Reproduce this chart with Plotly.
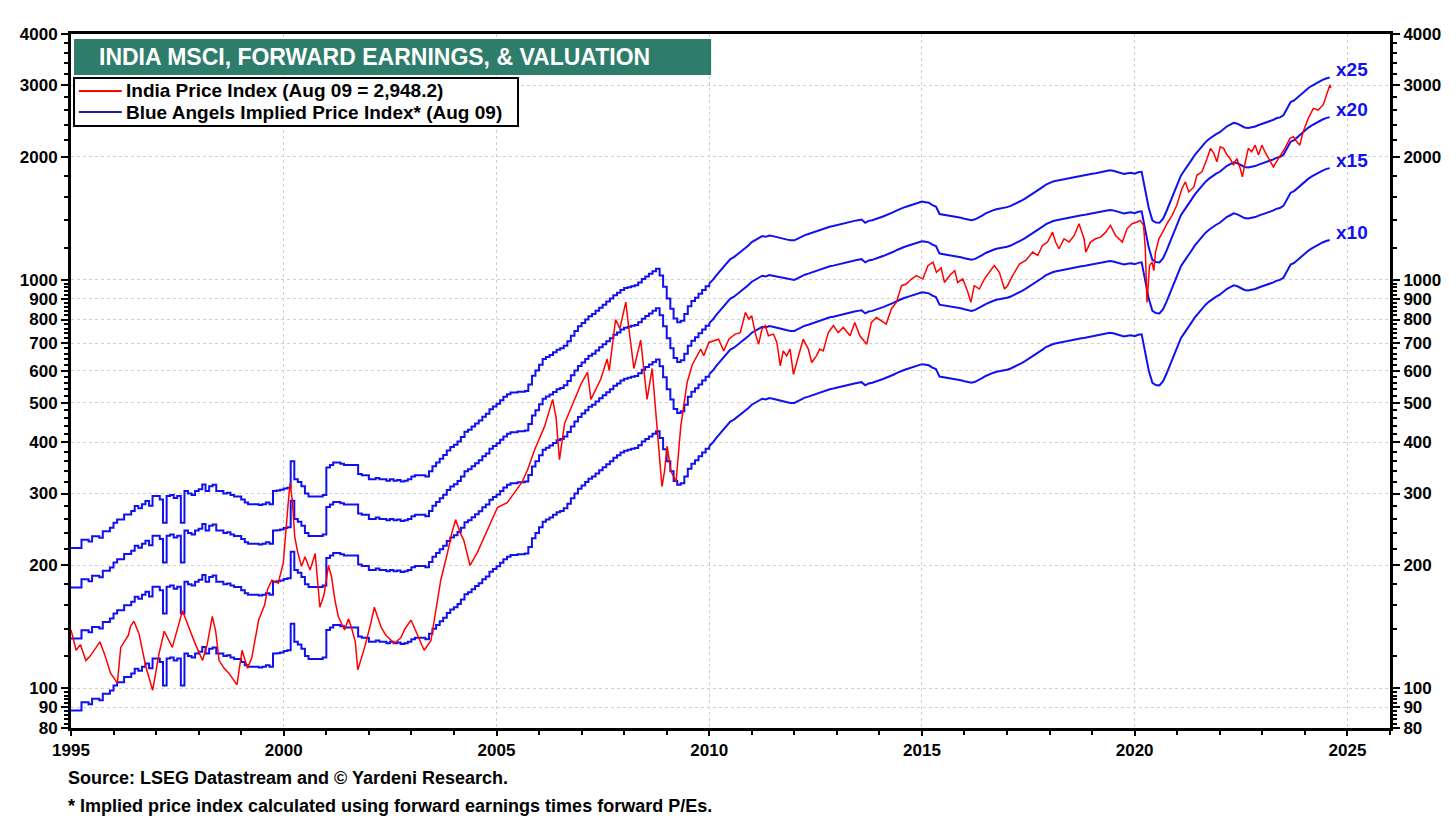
import math

import pandas as pd
import plotly.graph_objects as go

# forward earnings (monthly, Jan 1995 - Aug 2024)
fwd_eps = [
    8.83, 8.83, 8.83, 9.25, 9.25, 9.15, 9.43, 9.43, 9.35, 9.70, 9.70, 9.89,
    10.17, 10.36, 10.36, 10.66, 10.66, 10.87, 11.18, 11.05, 11.30, 11.50, 11.20, 11.83,
    11.83, 11.60, 10.17, 11.83, 11.90, 11.70, 11.83, 10.17, 12.17, 12.00, 11.90, 12.17,
    12.30, 12.63, 12.17, 12.50, 12.60, 12.17, 12.17, 12.00, 12.05, 11.90, 11.80, 11.80,
    11.60, 11.40, 11.30, 11.30, 11.30, 11.25, 11.30, 11.40, 11.30, 12.17, 12.20, 12.25,
    12.35, 12.40, 14.40, 13.00, 12.80, 12.50, 12.00, 11.80, 11.80, 11.80, 11.80, 11.90,
    13.90, 14.10, 14.30, 14.30, 14.20, 14.10, 14.10, 14.10, 14.10, 13.40, 13.30, 13.30,
    13.00, 13.00, 13.10, 13.00, 13.00, 12.90, 13.00, 12.90, 12.95, 12.85, 12.90, 13.00,
    13.20, 13.30, 13.30, 13.30, 13.20, 13.60, 14.00, 14.30, 14.60, 14.90, 15.30, 15.60,
    15.80, 16.10, 16.50, 17.00, 17.20, 17.50, 17.80, 18.10, 18.50, 18.80, 19.30, 19.60,
    19.90, 20.30, 20.70, 21.00, 21.20, 21.20, 21.30, 21.30, 21.40, 22.20, 23.30, 24.00,
    24.80, 25.60, 25.90, 26.20, 26.60, 27.00, 27.20, 27.60, 28.30, 29.20, 30.00, 30.80,
    31.40, 32.00, 32.60, 33.00, 33.60, 34.20, 34.80, 35.40, 36.00, 36.70, 37.20, 37.80,
    38.20, 38.40, 38.60, 38.80, 39.40, 40.20, 40.80, 41.40, 42.00, 42.60, 41.00, 38.50,
    36.00, 34.00, 32.20, 31.50, 31.80, 33.00, 34.50, 35.50, 36.20, 37.00, 37.80, 38.60,
    39.20, 40.00, 41.00, 42.00, 43.00, 44.00, 45.00, 45.50, 46.20, 47.00, 47.80, 48.50,
    49.50, 50.00, 50.50, 51.20, 51.00, 51.40, 51.20, 51.00, 50.80, 50.50, 50.20, 50.00,
    50.00, 50.50, 51.00, 51.50, 51.80, 52.20, 52.50, 52.80, 53.20, 53.60, 54.00, 54.20,
    54.50, 54.80, 55.00, 55.20, 55.60, 55.80, 56.00, 56.20, 55.20, 55.80, 56.00, 56.50,
    56.80, 57.20, 57.60, 58.00, 58.60, 59.20, 59.80, 60.20, 60.60, 61.00, 61.40, 61.80,
    62.20, 62.00, 61.80, 61.00, 60.50, 58.00, 57.80, 57.70, 57.60, 57.40, 57.20, 56.80,
    56.50, 56.20, 56.00, 56.30, 56.80, 57.50, 58.20, 58.80, 59.20, 59.60, 59.80, 60.00,
    60.30, 60.70, 61.20, 61.80, 62.50, 63.20, 64.00, 64.80, 65.60, 66.50, 67.50, 68.50,
    69.20, 69.70, 70.00, 70.30, 70.60, 71.00, 71.20, 71.60, 71.80, 72.00, 72.20, 72.50,
    72.80, 73.00, 73.30, 73.60, 73.80, 74.20, 74.00, 73.50, 73.00, 72.70, 73.00, 73.20,
    72.80, 73.40, 73.60, 67.00, 60.00, 56.00, 55.30, 55.20, 56.50, 59.00, 62.00, 65.00,
    69.00, 72.00, 74.00, 76.00, 78.50, 81.00, 83.00, 85.00, 87.00, 88.50, 90.00, 91.00,
    92.00, 93.50, 95.00, 96.00, 97.00, 96.50, 95.50, 94.50, 94.20, 94.50, 95.00, 95.80,
    96.50, 97.00, 97.80, 98.50, 99.50, 100.00, 101.20, 105.00, 109.00, 110.00, 112.00, 114.00,
    116.00, 118.00, 119.50, 121.00, 122.50, 123.50, 124.50, 125.20,
]
eps_dates = pd.date_range("1995-01-01", periods=len(fwd_eps), freq="MS")
pe_multiples = [25, 20, 15, 10]
step_until = "2010-01-01"  # monthly steps are visible before this date

# India price index (decimal years)
price_years = [
    1995.00, 1995.05, 1995.12, 1995.22, 1995.35, 1995.45, 1995.58, 1995.68, 1995.78, 1995.93,
    1996.09, 1996.17, 1996.35, 1996.40, 1996.48, 1996.60, 1996.76, 1996.92,
    1997.07, 1997.19, 1997.38, 1997.50, 1997.62, 1997.77, 1997.90,
    1998.09, 1998.20, 1998.32, 1998.40, 1998.48, 1998.60, 1998.71, 1998.90,
    1999.02, 1999.15, 1999.25, 1999.41, 1999.55, 1999.62, 1999.72, 1999.87, 1999.99,
    2000.05, 2000.10, 2000.15, 2000.20, 2000.26, 2000.33, 2000.42, 2000.50, 2000.62, 2000.74,
    2000.85, 2000.95, 2001.05, 2001.12, 2001.20, 2001.28, 2001.43, 2001.52, 2001.59, 2001.68,
    2001.74, 2001.90, 2002.05, 2002.13, 2002.20, 2002.29, 2002.40, 2002.60, 2002.75, 2002.85,
    2002.99, 2003.15, 2003.30, 2003.46, 2003.55, 2003.69, 2003.85, 2003.95,
    2004.04, 2004.15, 2004.23, 2004.38, 2004.55, 2004.80,
    2005.02, 2005.25, 2005.42, 2005.60, 2005.73, 2005.90, 2006.13, 2006.32, 2006.40, 2006.48,
    2006.60, 2006.83, 2007.00, 2007.14, 2007.22, 2007.45, 2007.60, 2007.65, 2007.80, 2007.90,
    2008.04, 2008.10, 2008.16, 2008.23, 2008.39, 2008.54, 2008.66, 2008.77, 2008.89, 2008.95,
    2009.01, 2009.10, 2009.22, 2009.33, 2009.48, 2009.60, 2009.80, 2009.87, 2009.99,
    2010.22, 2010.34, 2010.46, 2010.61, 2010.73, 2010.85, 2010.93, 2011.00, 2011.08, 2011.16,
    2011.24, 2011.32, 2011.39, 2011.51, 2011.59, 2011.67, 2011.74, 2011.82, 2011.90, 2011.98,
    2012.10, 2012.21, 2012.33, 2012.41, 2012.52, 2012.60, 2012.68, 2012.80, 2012.92, 2013.03,
    2013.15, 2013.31, 2013.42, 2013.54, 2013.70, 2013.81, 2013.93, 2014.05, 2014.16, 2014.28,
    2014.40, 2014.52, 2014.63, 2014.75, 2014.87, 2015.02, 2015.14, 2015.26, 2015.34, 2015.45,
    2015.53, 2015.65, 2015.77, 2015.84, 2015.96, 2016.08, 2016.15, 2016.23, 2016.35, 2016.47,
    2016.58, 2016.70, 2016.82, 2016.94, 2017.01, 2017.13, 2017.29, 2017.44, 2017.60, 2017.72,
    2017.83, 2017.95, 2018.07, 2018.14, 2018.22, 2018.34, 2018.46, 2018.58, 2018.69, 2018.81,
    2018.85, 2018.96, 2019.08, 2019.20, 2019.32, 2019.43, 2019.55, 2019.71, 2019.82, 2019.94,
    2020.06, 2020.13, 2020.21, 2020.25, 2020.29, 2020.35, 2020.41, 2020.45, 2020.49, 2020.57,
    2020.68, 2020.76, 2020.88, 2020.99, 2021.11, 2021.19, 2021.27, 2021.39, 2021.46, 2021.58,
    2021.70, 2021.78, 2021.86, 2021.93, 2022.01, 2022.09, 2022.17, 2022.24, 2022.32, 2022.40,
    2022.48, 2022.53, 2022.60, 2022.67, 2022.75, 2022.83, 2022.91, 2022.99, 2023.06, 2023.18,
    2023.26, 2023.38, 2023.53, 2023.65, 2023.73, 2023.81, 2023.88, 2023.96, 2024.08, 2024.20,
    2024.31, 2024.43, 2024.51, 2024.59, 2024.61,
]
price_values = [
    139, 132, 124, 128, 117, 120, 126, 130, 122, 109,
    103, 126, 135, 142, 146, 136, 113, 99,
    122, 138, 126, 140, 155, 141, 130,
    117, 128, 150, 138, 117, 112, 109, 102,
    124, 112, 119, 147, 160, 175, 184, 181, 203,
    250, 280, 318, 290, 235, 215, 199, 210, 195, 214,
    158, 170, 200, 188, 165, 150, 139, 148, 141, 130,
    111, 126, 145, 158, 150, 141, 135, 129, 133, 140,
    147, 135, 124, 131, 150, 184, 215, 240,
    259, 240, 231, 200, 215, 245,
    277, 285, 301, 320, 343, 385, 438, 510, 460, 363,
    445, 510, 560, 594, 510, 571, 640, 600, 800, 760,
    882, 780, 702, 607, 712, 510, 607, 438, 312, 340,
    392, 340, 321, 438, 561, 620, 677, 652, 703,
    716, 670, 716, 737, 743, 833, 802, 817, 743, 696,
    758, 773, 730, 737, 703, 616, 670, 652, 677, 587,
    652, 716, 677, 628, 652, 677, 670, 743, 773, 743,
    765, 730, 787, 730, 696, 787, 809, 794, 780, 849,
    882, 968, 977, 1005, 1025, 1005, 1084, 1105, 1044, 1070,
    986, 1025, 1054, 986, 1006, 933, 881, 968, 950, 1006,
    1044, 1084, 1044, 950, 968, 1025, 1094, 1116, 1170, 1148,
    1214, 1238, 1309, 1238, 1192, 1261, 1238, 1285, 1373, 1261,
    1170, 1238, 1261, 1273, 1309, 1360, 1285, 1238, 1334, 1373,
    1386, 1399, 1360, 1192, 881, 1084, 1105, 1054, 1170, 1261,
    1322, 1373, 1439, 1523, 1673, 1738, 1642, 1689, 1804, 1839,
    1983, 2099, 2040, 1946, 2118, 2099, 2021, 1983, 1909, 1983,
    1874, 1787, 1946, 2099, 2060, 2138, 2021, 2138, 2060, 1946,
    1891, 1983, 2099, 2221, 2242, 2178, 2138, 2306, 2486, 2631,
    2606, 2682, 2837, 3003, 2948.2,
]
price_dates = [pd.Timestamp(f"{int(y)}-01-01") + pd.Timedelta(days=(y - int(y)) * 365.25)
               for y in price_years]

y_major = [80, 90, 100, 200, 300, 400, 500, 600, 700, 800, 900, 1000, 2000, 3000, 4000]
y_minor = ([v for v in range(82, 100, 2) if v != 90]
           + [v for v in range(120, 1000, 20) if v % 100]
           + [v for v in range(1200, 4000, 200) if v % 1000])
x_years = list(range(1995, 2026, 5))

legend_items = [
    ("India Price Index (Aug 09 = 2,948.2)", "#FF0000"),
    ("Blue Angels Implied Price Index* (Aug 09)", "#1a1ab4"),
]

FONT = "Liberation Sans, Arial, sans-serif"
BLUE = "#1010F0"
RED = "#FF0000"

fig = go.Figure()
n_step = sum(d <= pd.Timestamp(step_until) for d in eps_dates)
for pe in pe_multiples:
    implied = [e * pe for e in fwd_eps]
    fig.add_trace(
        go.Scatter(x=eps_dates[:n_step], y=implied[:n_step], mode="lines",
                   line=dict(color=BLUE, width=2, shape="hv"), hoverinfo="skip")
    )
    fig.add_trace(
        go.Scatter(x=eps_dates[n_step - 1:], y=implied[n_step - 1:], mode="lines",
                   line=dict(color=BLUE, width=2), name=f"x{pe}")
    )
    fig.add_annotation(
        x=eps_dates[-1],
        y=math.log10(implied[-1]),
        text=f"x{pe}",
        showarrow=False,
        xanchor="left",
        yanchor="middle",
        xshift=4,
        yshift=8,
        font=dict(family=FONT, size=19, color=BLUE, weight="bold"),
    )

fig.add_trace(
    go.Scatter(x=price_dates, y=price_values, mode="lines",
               line=dict(color=RED, width=1.5), name="India Price Index")
)
# invisible trace so the right-hand axis is drawn
fig.add_trace(
    go.Scatter(x=[eps_dates[0]], y=[fwd_eps[0] * 10], yaxis="y2", mode="markers",
               marker=dict(opacity=0), showlegend=False, hoverinfo="skip")
)

yrange = [math.log10(80), math.log10(4000)]
axis_common = dict(
    type="log",
    range=yrange,
    tickvals=y_major,
    ticktext=[str(v) for v in y_major],
    ticks="outside",
    ticklen=7,
    tickwidth=2,
    tickcolor="black",
    showline=True,
    linewidth=3,
    linecolor="black",
    tickfont=dict(family=FONT, size=17, color="black", weight="bold"),
    minor=dict(tickvals=y_minor, ticks="outside", ticklen=4, tickcolor="black", showgrid=False),
)

# the page adds an 8px body margin, so the figure is 8px smaller each way
fig.update_layout(
    width=1448,
    height=811,
    margin=dict(l=57, r=66, t=26, b=91),
    paper_bgcolor="white",
    plot_bgcolor="white",
    showlegend=False,
    xaxis=dict(
        type="date",
        range=["1995-01-01", "2026-01-01"],
        tickvals=[f"{y}-01-01" for y in x_years],
        ticktext=[str(y) for y in x_years],
        ticks="outside",
        ticklen=5,
        tickwidth=2,
        tickcolor="black",
        showline=True,
        linewidth=3,
        linecolor="black",
        mirror=True,
        showgrid=True,
        gridcolor="#d0d0d0",
        griddash="dot",
        tickfont=dict(family=FONT, size=17, color="black", weight="bold"),
        minor=dict(tickvals=[f"{y}-01-01" for y in range(1995, 2027)], ticks="outside",
                   ticklen=4, tickcolor="black", showgrid=False),
    ),
    yaxis=dict(**axis_common, showgrid=True, gridcolor="#d0d0d0", griddash="dot"),
    yaxis2=dict(**axis_common, overlaying="y", side="right", showgrid=False),
)

# title box
fig.add_shape(type="rect", xref="paper", yref="paper", x0=0.0023, x1=0.4853, y0=0.9409, y1=0.9928,
              fillcolor="#2E7D6B", line=dict(width=0), layer="above")
fig.add_annotation(
    xref="paper", yref="paper", x=0.2302, y=0.9669,
    text="INDIA MSCI, FORWARD EARNINGS, & VALUATION",
    showarrow=False, xanchor="center", yanchor="middle",
    font=dict(family=FONT, size=23, color="white", weight="bold"),
)

# legend box
fig.add_shape(type="rect", xref="paper", yref="paper", x0=0.0023, x1=0.3389, y0=0.8674, y1=0.9366,
              fillcolor="white", line=dict(color="black", width=2), layer="above")
for i, (label, color) in enumerate(legend_items):
    ly = 0.9179 - i * 0.0303
    fig.add_shape(type="line", xref="paper", yref="paper", x0=0.0060, x1=0.0385, y0=ly, y1=ly,
                  line=dict(color=color, width=2), layer="above")
    fig.add_annotation(
        xref="paper", yref="paper", x=0.0405, y=ly, text=label,
        showarrow=False, xanchor="left", yanchor="middle", height=21,
        font=dict(family=FONT, size=19, color="black", weight="bold"),
    )

fig.add_annotation(
    xref="paper", yref="paper", x=-0.0038, y=-0.072,
    text="Source: LSEG Datastream and © Yardeni Research.",
    showarrow=False, xanchor="left", yanchor="middle",
    font=dict(family=FONT, size=18, color="black", weight="bold"),
)
fig.add_annotation(
    xref="paper", yref="paper", x=-0.0038, y=-0.112,
    text="* Implied price index calculated using forward earnings times forward P/Es.",
    showarrow=False, xanchor="left", yanchor="middle",
    font=dict(family=FONT, size=18, color="black", weight="bold"),
)

fig.write_html("out.html")
